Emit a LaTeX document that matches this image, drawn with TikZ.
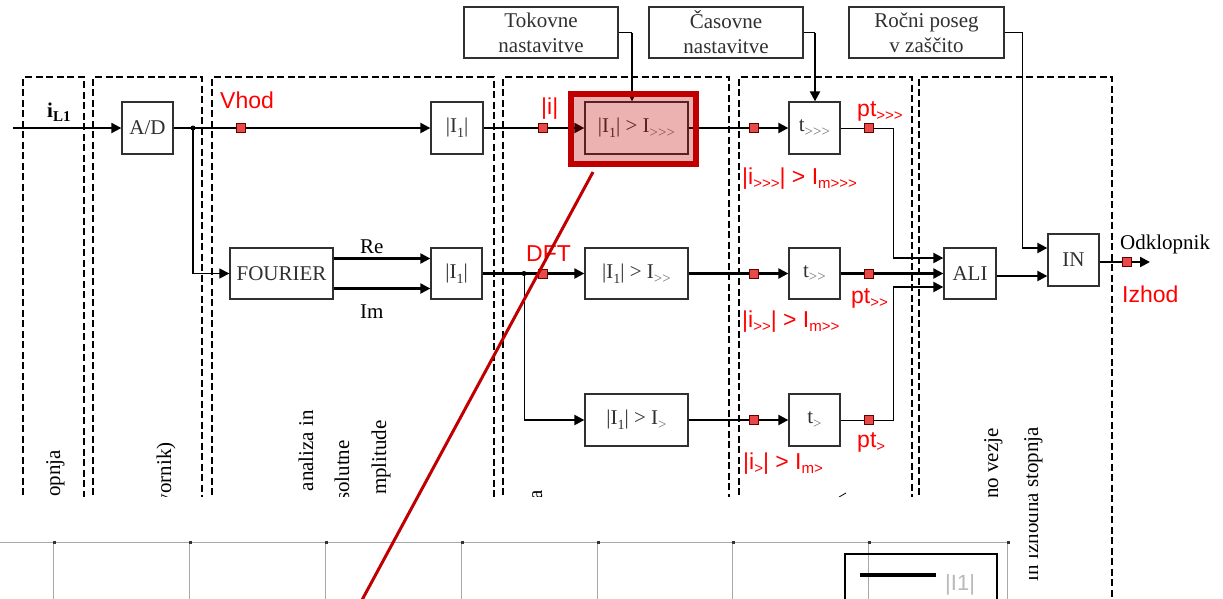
\documentclass[tikz,border=0pt]{standalone}
\usepackage{fontspec}
\usepackage{graphicx}
\setmainfont{Liberation Serif}
\newfontfamily\arialf{Liberation Sans}
\usetikzlibrary{arrows.meta,calc}
\definecolor{hlred}{HTML}{C00000}
\definecolor{mkred}{HTML}{E84A4A}
\definecolor{boxgray}{HTML}{303030}
\definecolor{gridgray}{HTML}{A8A8A8}
\definecolor{subgray}{HTML}{707070}
\newcommand\gtk{>\kern0pt}
\newcommand\subT[1]{\raisebox{-0.22em}{\fontsize{14}{14}\selectfont #1}}
\newcommand\subG[1]{\raisebox{-0.22em}{\fontsize{15}{15}\selectfont\color{subgray}#1}}
\newcommand\subR[1]{\raisebox{-0.2em}{\fontsize{15}{15}\selectfont #1}}
\begin{document}
\begin{tikzpicture}[x=1pt,y=-1pt,
  font=\fontsize{21}{24}\selectfont,
  blk/.style={draw=boxgray,line width=1.3pt,inner sep=0pt,align=center,text=boxgray},
  arr/.style={line width=2.2pt,-{Triangle[length=10pt,width=10pt]}},
  thn/.style={line width=1pt},
  mk/.style={draw=black!60!red,line width=0.6pt,fill=mkred,minimum size=9pt,inner sep=0pt},
  frm/.style={line width=2pt,dash pattern=on 7pt off 3.5pt},
  rlab/.style={text=red,font=\arialf\fontsize{23}{26}\selectfont,inner sep=0pt,anchor=base west},
  blab/.style={text=black,inner sep=0pt,anchor=base west},
  vt/.style={rotate=90,anchor=base east,inner sep=0pt,text=black},
  grd/.style={draw=gridgray,line width=1pt},
  dotn/.style={circle,fill=black,inner sep=0pt,minimum size=5pt},
]
\useasboundingbox (0,0) rectangle (1223,598);

% dashed stage frames
\draw[frm] (23,600) -- (23,77) -- (84,77) -- (84,600);
\draw[frm] (93,600) -- (93,77) -- (202,77) -- (202,600);
\draw[frm] (212,600) -- (212,77) -- (494,77) -- (494,600);
\draw[frm] (503,600) -- (503,77) -- (729,77) -- (729,600);
\draw[frm] (739,600) -- (739,77) -- (912,77) -- (912,600);
\draw[frm] (919,600) -- (919,77) -- (1112,77) -- (1112,600);

% vertical stage texts
\node[vt] (v1) at (60,450) {opnja};
\node[vt] (v2) at (171,442) {vornik)};
\node[vt] (v3) at (313,410) {analiza in};
\node[vt] (v4) at (349,440) {solutne};
\node[vt] (v5) at (386,420) {mplitude};
\node[vt] (v6) at (542,490) {a};
\node[vt] (v7) at (998,428) {no vezje};
\node[vt] (v8) at (1038,427) {in izhodna stopnja};
\draw[line width=0.8pt] (839,497) -- (846,493);

% setting boxes
\node[blk,minimum width=154pt,minimum height=51pt,font=\fontsize{21}{25}\selectfont] (tok) at (541,32.5) {Tokovne\\nastavitve};
\node[blk,minimum width=154pt,minimum height=51pt,font=\fontsize{21}{25}\selectfont] (cas) at (726,32.5) {Časovne\\nastavitve};
\node[blk,minimum width=155pt,minimum height=51pt,font=\fontsize{21}{25}\selectfont] (roc) at (926.5,32.5) {Ročni poseg\\v zaščito};

% main boxes
\node[blk,minimum width=51pt,minimum height=52pt] (ad) at (147.5,128) {A/D};
\node[blk,minimum width=52pt,minimum height=52pt] (i1a) at (457,128) {|I\subT{1}|};
\node[blk,minimum width=103pt,minimum height=52pt] (thr3) at (636.5,128) {|I\subT{1}| > I\subG{\gtk\gtk\gtk}};
\node[blk,minimum width=51pt,minimum height=52pt] (t3) at (814.5,128) {t\subG{\gtk\gtk\gtk}};

\node[blk,minimum width=103pt,minimum height=51pt] (four) at (281.5,273.5) {FOURIER};
\node[blk,minimum width=51pt,minimum height=51pt] (i1b) at (456.5,273.5) {|I\subT{1}|};
\node[blk,minimum width=103pt,minimum height=51pt] (thr2) at (636.5,273.5) {|I\subT{1}| > I\subG{\gtk\gtk}};
\node[blk,minimum width=51pt,minimum height=51pt] (t2) at (814.5,273.5) {t\subG{\gtk\gtk}};

\node[blk,minimum width=103pt,minimum height=52pt] (thr1) at (636.5,420) {|I\subT{1}| > I\subG{\gtk}};
\node[blk,minimum width=51pt,minimum height=52pt] (t1) at (814.5,420) {t\subG{\gtk}};

\node[blk,minimum width=52pt,minimum height=51pt] (ali) at (970,273.5) {ALI};
\node[blk,minimum width=51pt,minimum height=52pt] (inb) at (1073.5,260) {IN};

% connectors
\coordinate (inp) at (13,128);
\draw[arr] (inp) -- (ad.west);
\draw[arr] (ad.east) -- (i1a.west);
\coordinate (sp1) at (193,128);
\draw[line width=1.2pt,-{Triangle[length=10pt,width=10pt]}] (sp1) |- (four.west);
\node[dotn] (d1) at (sp1) {};
\draw[arr] ($(four.east)+(0,-15)$) -- ($(i1b.west)+(0,-15)$);
\draw[arr] ($(four.east)+(0,15)$) -- ($(i1b.west)+(0,15)$);
\draw[arr] (i1a.east) -- (thr3.west);
\draw[arr] (i1b.east) -- (thr2.west);
\coordinate (sp2) at (524,273.5);
\coordinate (sp2b) at (524,420);
\draw[thn] (sp2) -- (sp2b);
\draw[arr] (sp2b) -- (thr1.west);
\node[dotn] (d2) at (sp2) {};

\coordinate (tk) at (632,32.5);
\draw[thn] (tok.east) -- (tk);
\draw[arr] (tk) -- (tk |- thr3.north);
\coordinate (cs) at (815,32.5);
\draw[thn] (cas.east) -- (cs);
\draw[arr] (cs) -- (cs |- t3.north);

\draw[arr] (thr3.east) -- (t3.west);
\draw[arr] (thr2.east) -- (t2.west);
\draw[arr] (thr1.east) -- (t1.west);

\coordinate (k3) at (893,258);
\draw[thn] (t3.east) -| (k3);
\draw[arr] (k3) -- (k3 -| ali.west);
\draw[arr] (t2.east) -- (ali.west);
\coordinate (k1) at (893,287);
\draw[thn] (t1.east) -| (k1);
\draw[arr] (k1) -- (k1 -| ali.west);

\coordinate (rc) at (1022,248);
\draw[thn] (roc.east) -| (rc);
\draw[arr] (rc) -- (rc -| inb.west);
\draw[arr] ($(ali.east)+(0,2.5)$) -- ($(inb.west)+(0,16)$);
\coordinate (outp) at (1150,262);
\draw[arr] ($(inb.east)+(0,2)$) -- (outp);

% markers
\node[mk] (m1) at (241,128) {};
\node[mk] (m2) at (543,128) {};
\node[mk] (m3) at (543,273.5) {};
\node[mk] (m4) at (754,128) {};
\node[mk] (m5) at (754,273.5) {};
\node[mk] (m6) at (754,420) {};
\node[mk] (m7) at (869,128) {};
\node[mk] (m8) at (869,273.5) {};
\node[mk] (m9) at (869,420) {};
\node[mk] (m10) at (1127,262) {};

% labels
\node[rlab] (lvhod) at (220,108) {Vhod};
\node[rlab] (labsi) at (541,114) {|i|};
\node[rlab] (ldft) at (526,261) {DFT};
\node[rlab] (lpt3) at (857,116) {pt\subR{>>>}};
\node[rlab] (lc3) at (742,184) {|i\subR{>>>}| > I\subR{m>>>}};
\node[rlab] (lpt2) at (851,303) {pt\subR{>>}};
\node[rlab] (lc2) at (742,327) {|i\subR{>>}| > I\subR{m>>}};
\node[rlab] (lpt1) at (857,447) {pt\subR{>}};
\node[rlab] (lc1) at (743,469) {|i\subR{>}| > I\subR{m>}};
\node[rlab] (lizh) at (1122,302) {Izhod};
\node[blab] (lodk) at (1120,249) {Odklopnik};
\node[blab] (lre) at (360,253) {Re};
\node[blab] (lim) at (360,318) {Im};
\node[blab] (lil) at (47,117) {\textbf{i}\raisebox{-0.2em}{\fontsize{15}{15}\selectfont\bfseries L1}};

% highlight
\draw[draw=hlred,line width=6pt,fill=hlred,fill opacity=0.3] (571,94) rectangle (696,164);

% overlaid chart
\fill[white] (0,497) rectangle (1029,600);
\draw[grd] (0,542) -- (1008,542);
\foreach \x in {53,189,325,461,597,732,868,1007} {
  \draw[grd] (\x,542) -- (\x,600);
  \fill[black!80] (\x-0.5,541) rectangle (\x+3,544);
}
\draw[line width=1.3pt] (845,600) -- (845,554) -- (997,554) -- (997,600);
\draw[line width=3.5pt] (860,575) -- (936,575);
\node[anchor=base west,inner sep=0pt,text=gray!55,font=\arialf\fontsize{22}{22}\selectfont] (leg) at (945,590) {|I1|};

% red slash
\coordinate (rs1) at (593,172);
\coordinate (rs2) at (362,600);
\draw[hlred,line width=3pt] (rs1) -- (rs2);
\end{tikzpicture}
\end{document}
